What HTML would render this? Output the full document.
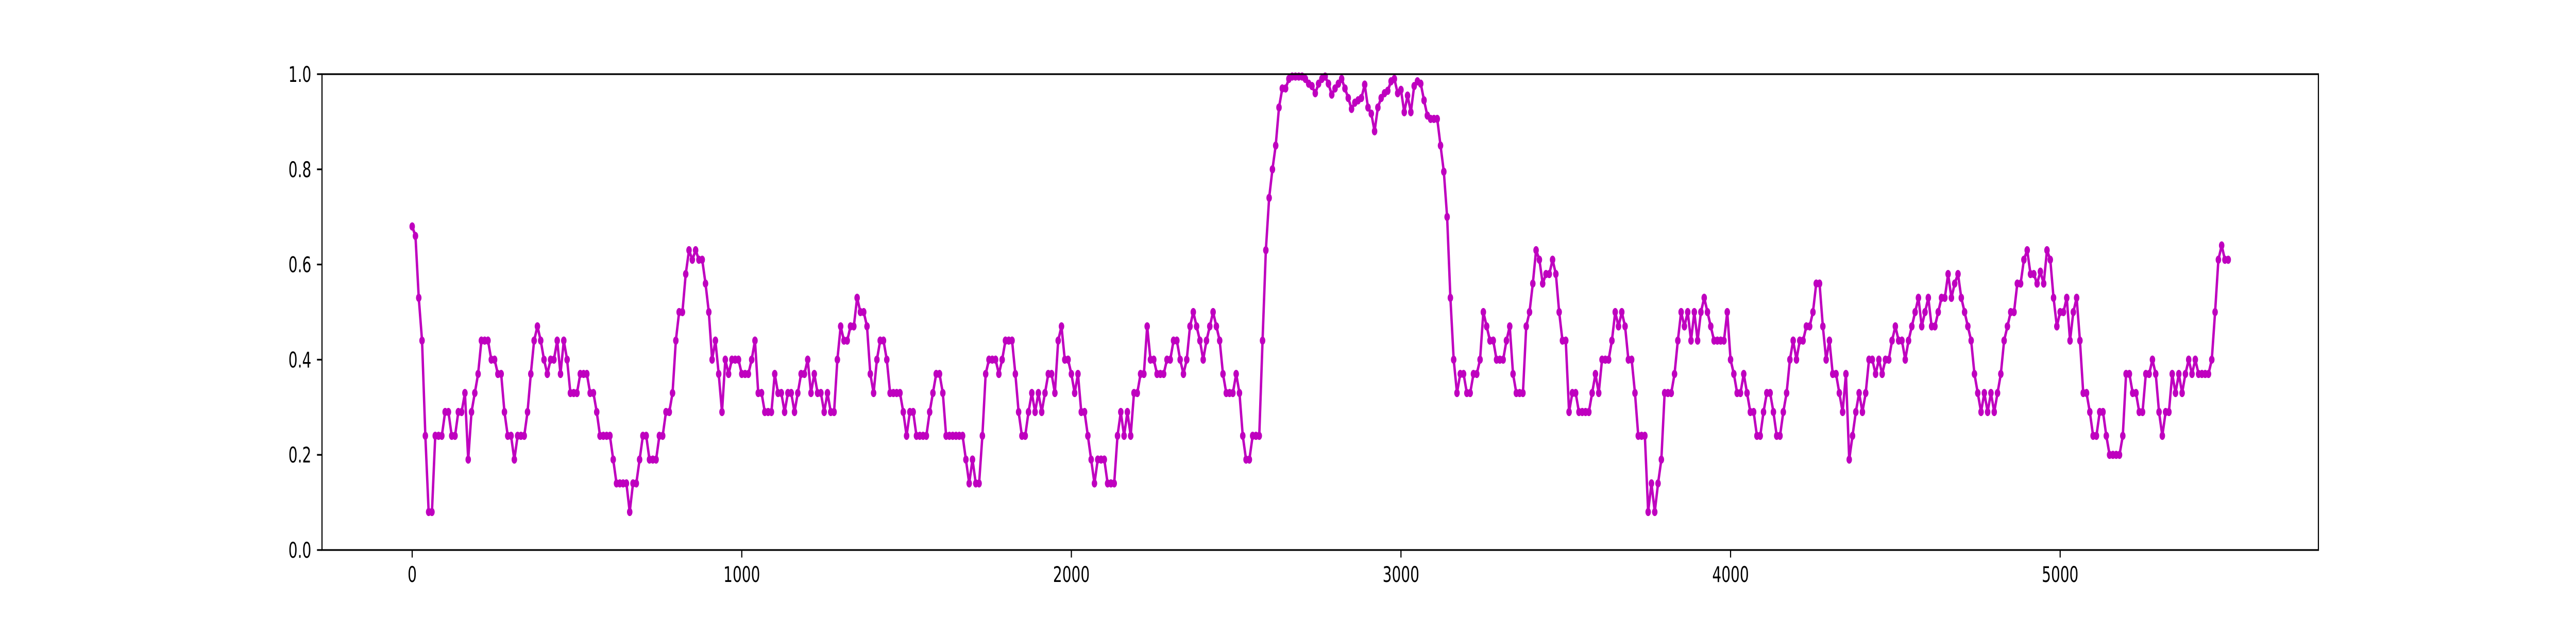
<!DOCTYPE html>
<html><head><meta charset="utf-8"><style>
html,body{margin:0;padding:0;background:#fff;overflow:hidden;width:100%;height:100%;}
svg{display:block;width:100vw;height:100vh;}
text{font-family:"DejaVu Sans","Liberation Sans",sans-serif;font-size:42px;fill:#000;}
</style></head><body>
<svg id="chart" viewBox="0 0 7500 1200" preserveAspectRatio="none">
<rect x="0" y="0" width="7500" height="1200" fill="#fff"/>
<g id="plot"></g>
<g id="axes"></g>
</svg>
<script>
const xStep = 10;
const values = [
0.68,0.66,0.53,0.44,0.24,0.08,0.08,0.24,0.24,0.24,
0.29,0.29,0.24,0.24,0.29,0.29,0.33,0.19,0.29,0.33,
0.37,0.44,0.44,0.44,0.40,0.40,0.37,0.37,0.29,0.24,
0.24,0.19,0.24,0.24,0.24,0.29,0.37,0.44,0.47,0.44,
0.40,0.37,0.40,0.40,0.44,0.37,0.44,0.40,0.33,0.33,
0.33,0.37,0.37,0.37,0.33,0.33,0.29,0.24,0.24,0.24,
0.24,0.19,0.14,0.14,0.14,0.14,0.08,0.14,0.14,0.19,
0.24,0.24,0.19,0.19,0.19,0.24,0.24,0.29,0.29,0.33,
0.44,0.50,0.50,0.58,0.63,0.61,0.63,0.61,0.61,0.56,
0.50,0.40,0.44,0.37,0.29,0.40,0.37,0.40,0.40,0.40,
0.37,0.37,0.37,0.40,0.44,0.33,0.33,0.29,0.29,0.29,
0.37,0.33,0.33,0.29,0.33,0.33,0.29,0.33,0.37,0.37,
0.40,0.33,0.37,0.33,0.33,0.29,0.33,0.29,0.29,0.40,
0.47,0.44,0.44,0.47,0.47,0.53,0.50,0.50,0.47,0.37,
0.33,0.40,0.44,0.44,0.40,0.33,0.33,0.33,0.33,0.29,
0.24,0.29,0.29,0.24,0.24,0.24,0.24,0.29,0.33,0.37,
0.37,0.33,0.24,0.24,0.24,0.24,0.24,0.24,0.19,0.14,
0.19,0.14,0.14,0.24,0.37,0.40,0.40,0.40,0.37,0.40,
0.44,0.44,0.44,0.37,0.29,0.24,0.24,0.29,0.33,0.29,
0.33,0.29,0.33,0.37,0.37,0.33,0.44,0.47,0.40,0.40,
0.37,0.33,0.37,0.29,0.29,0.24,0.19,0.14,0.19,0.19,
0.19,0.14,0.14,0.14,0.24,0.29,0.24,0.29,0.24,0.33,
0.33,0.37,0.37,0.47,0.40,0.40,0.37,0.37,0.37,0.40,
0.40,0.44,0.44,0.40,0.37,0.40,0.47,0.50,0.47,0.44,
0.40,0.44,0.47,0.50,0.47,0.44,0.37,0.33,0.33,0.33,
0.37,0.33,0.24,0.19,0.19,0.24,0.24,0.24,0.44,0.63,
0.74,0.80,0.85,0.93,0.97,0.97,0.99,0.995,0.995,0.995,
0.995,0.99,0.98,0.975,0.96,0.98,0.99,0.995,0.98,0.957,
0.97,0.98,0.99,0.97,0.95,0.927,0.94,0.945,0.95,0.978,
0.93,0.917,0.88,0.93,0.95,0.96,0.965,0.985,0.99,0.96,
0.967,0.92,0.955,0.92,0.975,0.985,0.98,0.945,0.913,0.906,
0.906,0.906,0.85,0.795,0.70,0.53,0.40,0.33,0.37,0.37,
0.33,0.33,0.37,0.37,0.40,0.50,0.47,0.44,0.44,0.40,
0.40,0.40,0.44,0.47,0.37,0.33,0.33,0.33,0.47,0.50,
0.56,0.63,0.61,0.56,0.58,0.58,0.61,0.58,0.50,0.44,
0.44,0.29,0.33,0.33,0.29,0.29,0.29,0.29,0.33,0.37,
0.33,0.40,0.40,0.40,0.44,0.50,0.47,0.50,0.47,0.40,
0.40,0.33,0.24,0.24,0.24,0.08,0.14,0.08,0.14,0.19,
0.33,0.33,0.33,0.37,0.44,0.50,0.47,0.50,0.44,0.50,
0.44,0.50,0.53,0.50,0.47,0.44,0.44,0.44,0.44,0.50,
0.40,0.37,0.33,0.33,0.37,0.33,0.29,0.29,0.24,0.24,
0.29,0.33,0.33,0.29,0.24,0.24,0.29,0.33,0.40,0.44,
0.40,0.44,0.44,0.47,0.47,0.50,0.56,0.56,0.47,0.40,
0.44,0.37,0.37,0.33,0.29,0.37,0.19,0.24,0.29,0.33,
0.29,0.33,0.40,0.40,0.37,0.40,0.37,0.40,0.40,0.44,
0.47,0.44,0.44,0.40,0.44,0.47,0.50,0.53,0.47,0.50,
0.53,0.47,0.47,0.50,0.53,0.53,0.58,0.53,0.56,0.58,
0.53,0.50,0.47,0.44,0.37,0.33,0.29,0.33,0.29,0.33,
0.29,0.33,0.37,0.44,0.47,0.50,0.50,0.56,0.56,0.61,
0.63,0.58,0.58,0.56,0.585,0.56,0.63,0.61,0.53,0.47,
0.50,0.50,0.53,0.44,0.50,0.53,0.44,0.33,0.33,0.29,
0.24,0.24,0.29,0.29,0.24,0.20,0.20,0.20,0.20,0.24,
0.37,0.37,0.33,0.33,0.29,0.29,0.37,0.37,0.40,0.37,
0.29,0.24,0.29,0.29,0.37,0.33,0.37,0.33,0.37,0.40,
0.37,0.40,0.37,0.37,0.37,0.37,0.40,0.50,0.61,0.64,
0.61,0.61
];
const xTicks = [0,1000,2000,3000,4000,5000];
const xTickLabels = ["0","1000","2000","3000","4000","5000"];
const yTicks = [0,0.2,0.4,0.6,0.8,1.0];
const yTickLabels = ["0.0","0.2","0.4","0.6","0.8","1.0"];

const L=937.5, R=6750, T=144, B=1068;
const xMin=-273.6, xMax=5783.5, yMin=0, yMax=1;
function xs(v){return L+(v-xMin)/(xMax-xMin)*(R-L);}
function ys(v){return B-(v-yMin)/(yMax-yMin)*(B-T);}
const NS="http://www.w3.org/2000/svg";
const plot=document.getElementById('plot');
const axes=document.getElementById('axes');

let d='';
values.forEach((v,i)=>{d+=(i?'L':'M')+xs(i*xStep).toFixed(1)+' '+ys(v).toFixed(1);});
const line=document.createElementNS(NS,'path');
line.setAttribute('d',d);
line.setAttribute('fill','none');
line.setAttribute('stroke','#bf00bf');
line.setAttribute('stroke-width','7');
line.setAttribute('stroke-linejoin','round');


plot.appendChild(line);
values.forEach((v,i)=>{
  const c=document.createElementNS(NS,'circle');
  c.setAttribute('cx',xs(i*xStep).toFixed(1));
  c.setAttribute('cy',ys(v).toFixed(1));
  c.setAttribute('r','8');
  c.setAttribute('fill','#bf00bf');
  
  
  plot.appendChild(c);
});

const frame=document.createElementNS(NS,'rect');
frame.setAttribute('x',L);
frame.setAttribute('y',T);
frame.setAttribute('width',R-L);
frame.setAttribute('height',B-T);
frame.setAttribute('fill','none');
frame.setAttribute('stroke','#000');
frame.setAttribute('stroke-width','3.3');


axes.appendChild(frame);

xTicks.forEach((t,i)=>{
  const x=xs(t);
  const tk=document.createElementNS(NS,'line');
  tk.setAttribute('x1',x);
  tk.setAttribute('x2',x);
  tk.setAttribute('y1',B);
  tk.setAttribute('y2',B+14.6);
  tk.setAttribute('stroke','#000');
  tk.setAttribute('stroke-width','3.3');
  
  
  axes.appendChild(tk);
  const tx=document.createElementNS(NS,'text');
  tx.setAttribute('x',x);
  tx.setAttribute('y',B+62);
  tx.setAttribute('text-anchor','middle');
  tx.textContent=xTickLabels[i];
  
  
  axes.appendChild(tx);
});
yTicks.forEach((t,i)=>{
  const y=ys(t);
  const tk=document.createElementNS(NS,'line');
  tk.setAttribute('x1',L-14.6);
  tk.setAttribute('x2',L);
  tk.setAttribute('y1',y);
  tk.setAttribute('y2',y);
  tk.setAttribute('stroke','#000');
  tk.setAttribute('stroke-width','3.3');
  
  
  axes.appendChild(tk);
  const tx=document.createElementNS(NS,'text');
  tx.setAttribute('x',L-31);
  tx.setAttribute('y',y+15);
  tx.setAttribute('text-anchor','end');
  tx.textContent=yTickLabels[i];
  
  
  axes.appendChild(tx);
});
</script>
</body></html>
